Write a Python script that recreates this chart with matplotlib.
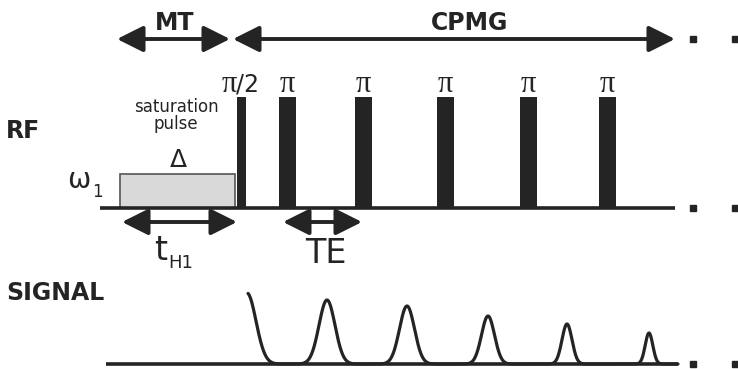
import numpy as np
import matplotlib
matplotlib.use("Agg")
import matplotlib.pyplot as plt
from matplotlib.patches import FancyArrowPatch, Rectangle

# sequence timing, in the figure's own time units (left to right)
sat_pulse = (120, 235)          # MT saturation pulse start / end
sat_top = 174
pi2_pulse = (237, 246)          # pi/2 excitation
pi_centres = [287, 363, 445, 528, 607]
pi_width = 17
pulse_top = 97
rf_base = 208
rf_line = (100, 675)

# signal
sig_base = 364
sig_line = (106, 678)
fid = (248, 71, 9)              # start, amplitude, decay width
echo_centres = [327, 407, 488, 567, 649]
echo_amps = [64, 58, 48, 40, 31]
echo_widths = [8, 7.5, 6.5, 5.0, 3.8]

# timing brackets
mt_span = (117, 230)
cpmg_span = (233, 675)
bracket_y = 39
th1_span = (122, 237)
te_span = (283, 362)
bracket2_y = 222
dots_x = [693, 735]

dark = "#242424"

fig = plt.figure(figsize=(7.38, 3.69), dpi=100)
ax = fig.add_axes([0, 0, 1, 1])
ax.set_xlim(0, 738)
ax.set_ylim(369, 0)
ax.axis("off")

# RF line and pulses
ax.plot(rf_line, [rf_base, rf_base], color=dark, lw=2.6, solid_capstyle="butt")
ax.add_patch(Rectangle((sat_pulse[0], sat_top), sat_pulse[1] - sat_pulse[0], rf_base - sat_top,
                       facecolor="#d9d9d9", edgecolor="#555555", lw=1.2))
ax.bar(np.mean(pi2_pulse), rf_base - pulse_top, width=pi2_pulse[1] - pi2_pulse[0],
       bottom=pulse_top, color=dark)
ax.bar(pi_centres, rf_base - pulse_top, width=pi_width, bottom=pulse_top, color=dark)

# signal: FID then echoes
ax.plot(sig_line, [sig_base, sig_base], color=dark, lw=2.6, solid_capstyle="butt")
t = np.linspace(fid[0], sig_line[1], 1500)
s = fid[1] * np.exp(-(t - fid[0] + 1) ** 2 / (2 * fid[2] ** 2))
for c, a, w in zip(echo_centres, echo_amps, echo_widths):
    s += a * np.exp(-(t - c) ** 2 / (2 * w ** 2))
ax.plot(t, sig_base - s, color=dark, lw=2.3, solid_capstyle="round")

# continuation dots
for y in [bracket_y, rf_base, sig_base]:
    ax.plot(dots_x, [y, y], ls="none", marker="s", ms=4.5, color=dark)


def bracket(span, y):
    ax.add_patch(FancyArrowPatch((span[0], y), (span[1], y),
                                 arrowstyle="<|-|>,head_length=0.8,head_width=0.4",
                                 mutation_scale=20, lw=2.8, color=dark,
                                 shrinkA=0, shrinkB=0))


bracket(mt_span, bracket_y)
bracket(cpmg_span, bracket_y)
bracket(th1_span, bracket2_y)
bracket(te_span, bracket2_y)

bold = dict(family="DejaVu Sans", weight="bold", color=dark, va="baseline")
ax.text(175, 30, "MT", ha="center", fontsize=17, **bold)
ax.text(470, 30, "CPMG", ha="center", fontsize=17, **bold)
ax.text(6, 138, "RF", ha="left", fontsize=17, **bold)
ax.text(6, 300, "SIGNAL", ha="left", fontsize=17, **bold)

serif = dict(family="Liberation Serif", color=dark, va="baseline")
sans = dict(family="DejaVu Sans", color=dark, va="baseline")
ax.text(237, 92, "\u03c0", ha="right", fontsize=22, **serif)
ax.text(236, 92, "/2", ha="left", fontsize=17, **sans)
for x in pi_centres:
    ax.text(x, 92, "\u03c0", ha="center", fontsize=22, **serif)

ax.text(176, 112, "saturation", ha="center", fontsize=12, **sans)
ax.text(176, 129, "pulse", ha="center", fontsize=12, **sans)
ax.text(178, 167, "\u0394", ha="center", fontsize=18, **sans)
ax.text(67, 188, "\u03c9", ha="left", fontsize=20, **sans)
ax.text(92, 197, "1", ha="left", fontsize=12, **sans)
ax.text(161, 260, "t", ha="center", fontsize=24, **sans)
ax.text(168, 268, "H1", ha="left", fontsize=13, **sans)
ax.text(326, 263, "TE", ha="center", fontsize=24, **sans)

fig.savefig("out.png", dpi=100)
